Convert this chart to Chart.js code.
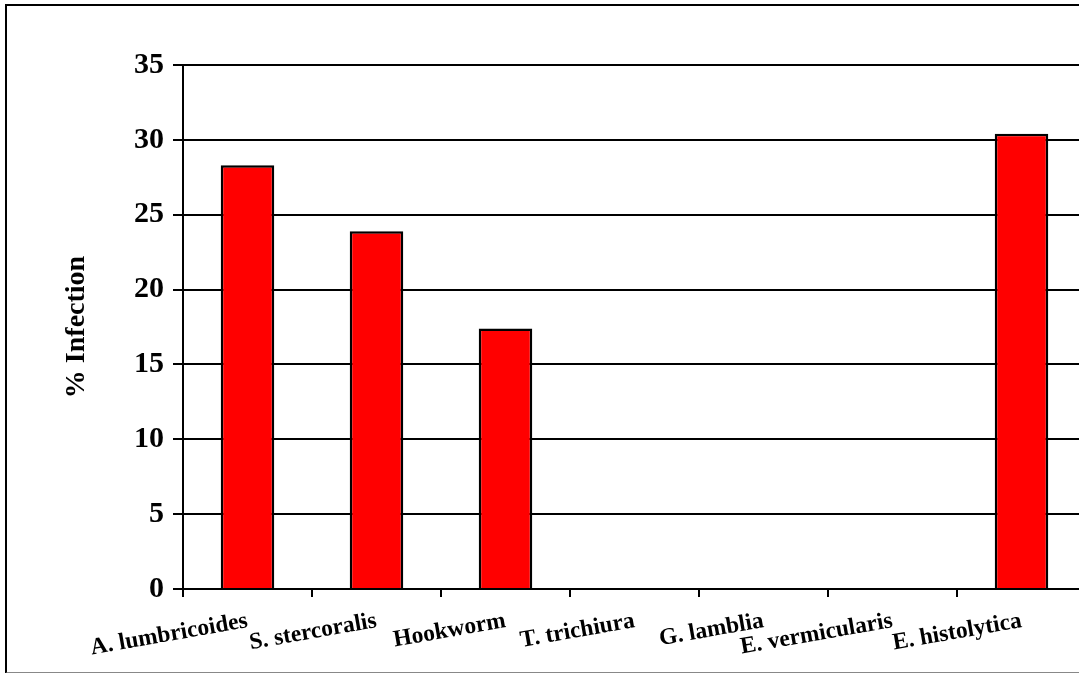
<!DOCTYPE html>
<html>
<head>
<meta charset="utf-8">
<script src="https://cdn.jsdelivr.net/npm/chart.js@4/dist/chart.umd.min.js"></script>
<style>
  html, body { margin: 0; padding: 0; background: #fff; overflow: hidden; }
  body { width: 1079px; height: 673px; position: relative; }
  #frame {
    position: absolute; left: 5px; top: 4px; width: 1200px; height: 666px;
    border-left: 2px solid #000; border-top: 2px solid #000; border-bottom: 2px solid #888;
  }
  #chart { position: absolute; left: 0; top: 0; }
</style>
</head>
<body>
<div id="frame"></div>
<canvas id="chart" width="1100" height="673"></canvas>
<script>
const categories = ['A. lumbricoides', 'S. stercoralis', 'Hookworm', 'T. trichiura', 'G. lamblia', 'E. vermicularis', 'E. histolytica'];
const infection = [28.3, 23.9, 17.4, 0, 0, 0, 30.4];
const yTicks = [0, 5, 10, 15, 20, 25, 30, 35];

function drawChart() {
    const ctx = document.getElementById('chart');
    new Chart(ctx, {
        type: 'bar',
        data: {
            labels: categories,
            datasets: [{
                label: '% Infection',
                data: infection,
                backgroundColor: '#ff0000',
                borderColor: '#000',
                borderWidth: 2.5,
                barPercentage: 0.415,
                categoryPercentage: 1
            }]
        },
        options: {
            responsive: false,
            animation: false,
            devicePixelRatio: 1,
            layout: { padding: { left: 56, top: 65, right: 14, bottom: 0 } },
            plugins: { legend: { display: false }, tooltip: { enabled: false } },
            scales: {
                x: {
                    grid: { drawOnChartArea: false, drawTicks: true, tickLength: 8, color: '#000', lineWidth: 2 },
                    border: { color: '#000', width: 2 },
                    ticks: {
                        color: '#000',
                        autoSkip: false,
                        maxRotation: 10, minRotation: 10,
                        padding: 10,
                        font: { family: 'Liberation Serif', weight: 'bold', size: 23.5 }
                    },
                    afterFit: scale => { scale.height = 84; }
                },
                y: {
                    min: 0, max: 35,
                    afterBuildTicks: scale => { scale.ticks = yTicks.map(v => ({ value: v })); },
                    grid: { color: '#000', lineWidth: 2, tickLength: 10 },
                    border: { color: '#000', width: 2 },
                    ticks: {
                        color: '#000',
                        padding: 9,
                        font: { family: 'Liberation Serif', weight: 'bold', size: 30 }
                    },
                    title: {
                        display: true, text: '% Infection', color: '#000',
                        font: { family: 'Liberation Serif', weight: 'bold', size: 28 }
                    },
                    afterFit: scale => { scale.width = 127; }
                }
            }
        }
    });
}

window.onload = drawChart;
</script>
</body>
</html>
